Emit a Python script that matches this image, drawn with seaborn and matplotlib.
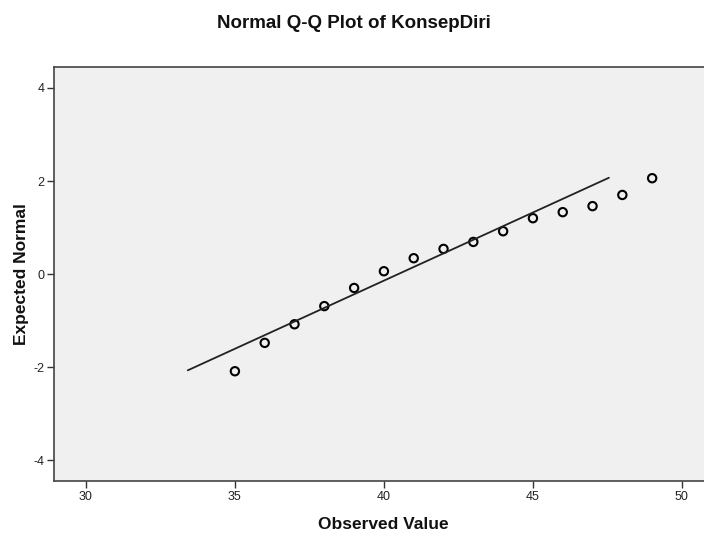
import pandas as pd
import matplotlib
matplotlib.use("Agg")
import matplotlib.pyplot as plt
import seaborn as sns

# observed values and their expected normal scores
observed = [35, 36, 37, 38, 39, 40, 41, 42, 43, 44, 45, 46, 47, 48, 49]
expected = [-2.09, -1.48, -1.08, -0.69, -0.30, 0.06, 0.34, 0.54, 0.69,
            0.92, 1.20, 1.33, 1.46, 1.70, 2.06]

# reference line endpoints
line_x = [33.42, 47.55]
line_y = [-2.07, 2.07]

x_ticks = [30, 35, 40, 45, 50]
y_ticks = [-4, -2, 0, 2, 4]

sns.set_style("white")
plt.rcParams['font.family'] = ['Liberation Sans', 'DejaVu Sans']
plt.rcParams['axes.unicode_minus'] = False

df = pd.DataFrame({'obs': observed, 'exp': expected})
df_line = pd.DataFrame({'x': line_x, 'y': line_y})

fig = plt.figure(figsize=(7.04, 5.39), dpi=100)
ax = fig.add_axes([0.0767, 0.1076, 0.936, 0.768])
ax.set_facecolor('#f0f0f0')

sns.lineplot(data=df_line, x='x', y='y', color='#222222', linewidth=1.3, ax=ax)
sns.scatterplot(data=df, x='obs', y='exp', marker='o', s=36,
                facecolor='none', edgecolor='black', linewidth=1.5, ax=ax)

ax.set_xlim(28.93, 51.04)
ax.set_ylim(-4.45, 4.45)
ax.set_xticks(x_ticks)
ax.set_yticks(y_ticks)
ax.tick_params(axis='both', direction='out', length=5, width=1, color='#333333',
               labelsize=9, labelcolor='#222222', pad=2, bottom=True, left=True)

for side in ['top', 'left', 'bottom']:
    ax.spines[side].set_color('#444444')
    ax.spines[side].set_linewidth(1.2)
ax.spines['right'].set_visible(False)

ax.set_xlabel('Observed Value', fontsize=12.5, fontweight='bold', labelpad=10,
              color='#111111')
ax.set_ylabel('Expected Normal', fontsize=12.5, fontweight='bold', labelpad=3,
              color='#111111')
fig.text(0.503, 0.957, 'Normal Q-Q Plot of KonsepDiri', ha='center', va='center',
         fontsize=13.5, fontweight='bold', color='#111111')

fig.savefig('out.png', dpi=100)
